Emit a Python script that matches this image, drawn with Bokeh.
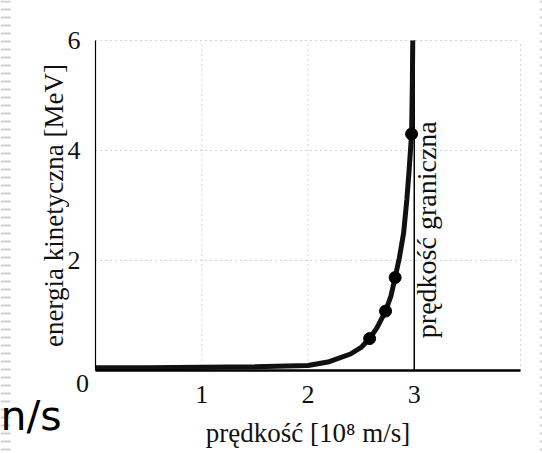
from bokeh.plotting import figure
from bokeh.models import Range1d, FixedTicker, Label, Span
from bokeh.embed import file_html
from bokeh.resources import INLINE
import math

# ---- data ----
speed = [0.0, 0.5, 1.0, 1.5, 2.0, 2.2, 2.4, 2.5, 2.58, 2.65, 2.73, 2.78,
         2.82, 2.86, 2.90, 2.93, 2.95, 2.975, 2.982, 2.986]
energy = [0.05, 0.05, 0.06, 0.07, 0.09, 0.16, 0.30, 0.42, 0.58, 0.78, 1.08, 1.35,
          1.69, 2.05, 2.50, 3.10, 3.60, 4.30, 5.20, 6.00]
dots_speed = [2.58, 2.73, 2.82, 2.975]
dots_energy = [0.58, 1.08, 1.69, 4.30]
limit_speed = 3.0
x_bounds = (0, 4)
y_bounds = (0, 6)
x_ticks = [1, 2, 3]
y_ticks = [2, 4, 6]
x_grid = [1, 2, 4]
y_grid = [2, 4, 6]
x_label = "prędkość [10⁸ m/s]"
y_label = "energia kinetyczna [MeV]"
limit_label = "prędkość graniczna"
origin_label = "0"
slide_text = "n/s"

SERIF = "Liberation Serif"
W, H = 542, 453
# pixel layout of the plotting area inside the picture
LEFT, RIGHT, TOP, BOTTOM = 95, 520, 40, 370
sx = (RIGHT - LEFT) / (x_bounds[1] - x_bounds[0])
sy = (BOTTOM - TOP) / (y_bounds[1] - y_bounds[0])
x_range = Range1d(x_bounds[0] - LEFT / sx, x_bounds[1] + (W - RIGHT) / sx)
y_range = Range1d(y_bounds[0] - (H - BOTTOM) / sy, y_bounds[1] + TOP / sy)

p = figure(width=W, height=H, x_range=x_range, y_range=y_range,
           output_backend="svg", toolbar_location=None, min_border=0)
p.title.visible = False
p.outline_line_color = None
p.background_fill_color = "white"
p.border_fill_color = "white"
p.xgrid.visible = False
p.ygrid.visible = False

# slide border stripes at the picture edges
p.add_layout(Span(location=5, location_units="screen", dimension="height",
                  line_color="#cfcfcf", line_width=10, line_dash="2 6"))
p.add_layout(Span(location=W - 1, location_units="screen", dimension="height",
                  line_color="#cfcfcf", line_width=3, line_dash="2 6"))

# dotted grid inside the axis bounds
p.segment(x0=x_grid, y0=[y_bounds[0]] * len(x_grid), x1=x_grid, y1=[y_bounds[1]] * len(x_grid),
          line_color="#a8a8a8", line_dash="1 4", line_width=1)
p.segment(x0=[x_bounds[0]] * len(y_grid), y0=y_grid, x1=[x_bounds[1]] * len(y_grid), y1=y_grid,
          line_color="#a8a8a8", line_dash="1 4", line_width=1)

# axes fixed at the origin
p.xaxis.fixed_location = 0
p.yaxis.fixed_location = 0
p.xaxis.bounds = x_bounds
p.yaxis.bounds = y_bounds
p.xaxis.ticker = FixedTicker(ticks=x_ticks)
p.yaxis.ticker = FixedTicker(ticks=y_ticks)
for ax in (p.xaxis, p.yaxis):
    ax.major_tick_line_color = None
    ax.minor_tick_line_color = None
    ax.axis_line_color = "black"
    ax.major_label_text_font = SERIF
    ax.major_label_text_font_size = "26px"
    ax.major_label_text_color = "#111111"
    ax.axis_label_text_font = SERIF
    ax.axis_label_text_font_style = "normal"
    ax.axis_label_text_font_size = "27px"
    ax.axis_label_text_color = "#111111"
p.xaxis.axis_line_width = 2.5
p.yaxis.axis_line_width = 1.2
p.xaxis.major_label_standoff = 9
p.yaxis.major_label_standoff = 9
p.xaxis.axis_label = x_label
p.yaxis.axis_label = y_label
p.xaxis.axis_label_standoff = 12
p.yaxis.axis_label_standoff = -4

# limit speed line
p.segment(x0=[limit_speed], y0=[y_bounds[0]], x1=[limit_speed], y1=[y_bounds[1]],
          line_color="black", line_width=1.5)

# curve and points
p.line(speed, energy, line_color="#111111", line_width=5)
p.scatter(dots_speed, dots_energy, size=12, fill_color="black", line_color="black")

# origin label
p.add_layout(Label(x=x_bounds[0], y=y_bounds[0], text=origin_label, x_offset=-13, y_offset=-13,
                   text_align="center", text_baseline="middle",
                   text_font=SERIF, text_font_size="26px", text_color="#111111"))

# limit speed label
p.add_layout(Label(x=3.115, y=2.56, text=limit_label, angle=math.pi / 2,
                   text_align="center", text_baseline="middle",
                   text_font=SERIF, text_font_size="28px", text_color="#111111"))

# slide text at the left edge
p.add_layout(Label(x=0, y=38, x_units="screen", y_units="screen", text=slide_text,
                   text_align="left", text_baseline="alphabetic",
                   text_font="DejaVu Sans", text_font_size="41px", text_color="black"))

open("out.html", "w").write(file_html(p, INLINE))
